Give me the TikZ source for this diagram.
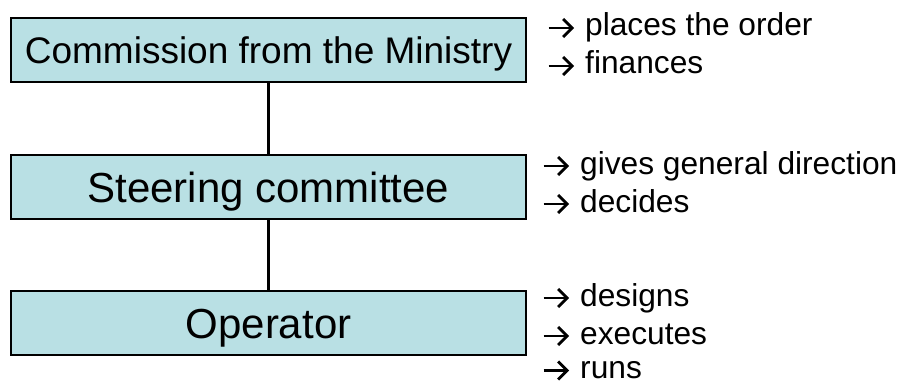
\documentclass[tikz,border=0pt]{standalone}
\usepackage{fontspec}
\setmainfont{Liberation Sans}
\definecolor{boxfill}{RGB}{185,224,228}
\newcommand\sidearrow{\makebox[38pt][l]{\tikz[baseline=0pt]{%
  \draw[line width=2.9pt] (0pt,8pt) -- (23pt,8pt);
  \draw[line width=2.9pt, line join=miter] (14.5pt,17pt) -- (23.5pt,8pt) -- (14.5pt,-1pt);}}}
\begin{document}
\begin{tikzpicture}[x=1pt,y=1pt,
  box/.style={draw=black, line width=2pt, fill=boxfill, minimum width=515pt,
    minimum height=64pt, inner sep=0pt, text depth=0pt},
  bigtext/.style={font=\fontsize{42}{50}\selectfont, text height=30pt},
  side/.style={anchor=base west, inner sep=0pt, font=\fontsize{31.7}{38}\selectfont},
  link/.style={draw=black, line width=2.6pt}]
\useasboundingbox (0,0) rectangle (904,381);
\node[box, font=\fontsize{37}{44}\selectfont, text height=26.5pt] (b1) at (268.5,331) {Commission from the Ministry};
\node[box, bigtext] (b2) at (268.5,194) {Steering committee};
\node[box, bigtext] (b3) at (268.5,58) {Operator};
\draw[link] (b1.south) -- (b2.north);
\draw[link] (b2.south) -- (b3.north);
\node[side] (t1a) at (547,345) {\sidearrow places the order};
\node[side] (t1b) at (547,307) {\sidearrow finances};
\node[side] (t2a) at (542,207) {\sidearrow gives general direction};
\node[side] (t2b) at (542,169) {\sidearrow decides};
\node[side] (t3a) at (542,75) {\sidearrow designs};
\node[side] (t3b) at (542,37) {\sidearrow executes};
\node[side] (t3c) at (542,2.5) {\sidearrow runs};
\end{tikzpicture}
\end{document}
